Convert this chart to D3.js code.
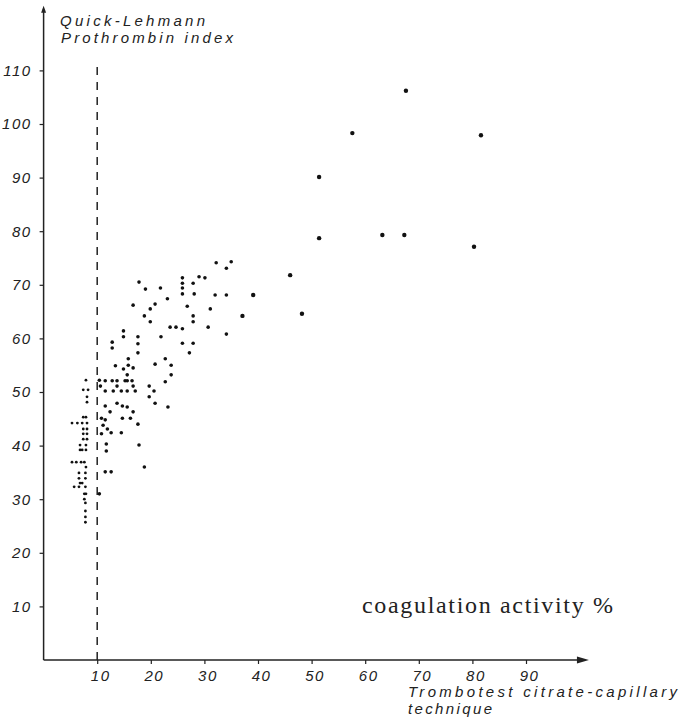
<!DOCTYPE html>
<html>
<head>
<meta charset="utf-8">
<script src="https://cdn.jsdelivr.net/npm/d3@7"></script>
<style>
  html, body { margin: 0; padding: 0; background: #fff; }
  svg { display: block; }
</style>
</head>
<body>
<svg id="chart" width="680" height="724"></svg>
<script>
// ---- data ----
const xTicks = [10, 20, 30, 40, 50, 60, 70, 80, 90];
const yTicks = [10, 20, 30, 40, 50, 60, 70, 80, 90, 100, 110];
const thresholdX = 10;

// Trombotest < 10 %
const leftPoints = [
  [7.9,52.2],[7.4,50.4],[8.3,50.4],[8.1,49.1],[8.1,48.1],[7.4,45.3],[7.9,45.3],
  [5.3,44.2],[6.3,44.2],[7.2,44.2],[8.1,44.2],[7.4,43.1],[8.1,43.1],[7.4,42.2],[8.1,42.2],
  [7.4,41.2],[8.1,41.2],[6.8,40.1],[7.9,40.1],[6.8,39.2],[7.2,39.2],[7.9,39.2],
  [5.3,36.9],[6.1,36.9],[7.0,36.9],[7.6,36.9],[7.9,36.0],[6.6,34.9],[7.8,34.9],
  [6.6,33.9],[7.8,33.9],[6.8,33.0],[7.2,33.0],[5.7,32.3],[6.6,32.3],[7.8,32.3],
  [7.6,31.0],[7.9,31.0],[7.6,30.0],[7.8,29.3],[7.8,27.8],[7.8,26.7],[7.8,25.7]
];

// Trombotest 10 - 35 %
const mainPoints = [
  [32.2,74.1],[35.0,74.3],[34.1,73.1],[25.9,71.3],[25.9,70.3],[25.9,69.4],[25.9,68.3],
  [29.0,71.5],[30.1,71.3],[27.9,70.3],[28.1,68.3],[32.0,68.1],[34.1,68.1],[21.8,69.4],
  [23.1,67.4],[26.8,66.0],[31.1,65.5],[27.9,64.2],[27.9,63.1],[23.6,62.1],[24.7,62.1],
  [25.9,61.8],[30.7,62.1],[34.1,60.8],[21.9,60.3],[25.9,59.1],[27.9,59.1],[27.2,57.3],
  [22.7,56.2],[23.8,55.0],[23.8,53.2],[22.7,51.9],[23.2,47.2],
  [17.8,70.5],[19.0,69.2],[16.7,66.2],[20.8,66.4],[19.9,65.5],[18.8,64.2],[19.9,63.1],
  [14.9,61.4],[14.9,60.3],[17.6,60.3],[12.8,59.3],[12.8,58.2],[17.6,59.0],[17.6,57.3],
  [15.8,56.2],[13.4,54.9],[14.9,54.3],[15.8,55.0],[16.7,54.5],[15.6,53.2],[20.8,55.2],
  [10.4,52.2],[11.5,52.1],[12.8,52.1],[13.7,52.1],[15.2,52.1],[15.6,52.1],[16.5,52.1],
  [10.6,51.1],[13.7,51.1],[16.7,51.1],[19.7,51.1],
  [11.5,50.2],[13.0,50.2],[14.5,50.2],[15.6,50.2],[17.1,50.2],[20.6,50.2],
  [19.7,49.1],[20.8,47.9],[11.5,47.4],[12.4,46.3],[13.7,47.9],[14.7,47.4],[15.6,47.2],
  [16.7,46.3],[14.7,45.1],[16.2,45.1],[17.6,44.0],
  [10.8,45.1],[11.5,44.8],[11.1,43.8],[11.9,43.1],[10.8,42.2],[12.6,42.4],[14.5,42.4],
  [11.7,40.3],[11.7,39.0],[17.8,40.1],[18.8,36.0],[11.5,35.1],[12.6,35.1],[10.4,31.0]
];

// Trombotest > 35 %
const highPoints = [
  [67.6,106.2],[57.6,98.3],[81.6,97.9],[51.4,90.1],[51.4,78.7],[63.2,79.3],[67.3,79.3],
  [80.3,77.1],[46.0,71.8],[39.1,68.1],[37.1,64.2],[48.2,64.6]
];

const yTitle = ["Quick-Lehmann", "Prothrombin index"];
const xTitle = ["Trombotest citrate-capillary", "technique"];
const unitLabel = "coagulation activity %";

// ---- drawing ----
const ink = "#222";
const hand = "'Liberation Sans', 'DejaVu Sans', sans-serif";
const svg = d3.select("#chart");

const x = d3.scaleLinear().domain([0, 100]).range([43.6, 579.6]);
const y = d3.scaleLinear().domain([0, 110]).range([660, 70.4]);

// axes
const xAxis = d3.axisBottom(x).tickValues(xTicks).tickSize(4).tickPadding(6).tickFormat(d3.format("d"));
const yAxis = d3.axisLeft(y).tickValues(yTicks).tickSize(4).tickPadding(5).tickFormat(d3.format("d"));

const gx = svg.append("g").attr("transform", `translate(0,${y(0)})`).call(xAxis);
const gy = svg.append("g").attr("transform", `translate(${x(0)},0)`).call(yAxis);
[gx, gy].forEach(g => {
  g.attr("font-family", null).attr("font-size", null);
  g.select(".domain").remove();
  g.selectAll(".tick line").attr("stroke", ink).attr("stroke-width", 1.2);
  g.selectAll(".tick text")
    .attr("fill", ink)
    .attr("font-family", hand)
    .attr("font-style", "italic")
    .attr("font-size", 15)
    .style("letter-spacing", "1.5px");
});
gx.selectAll(".tick text").attr("dx", 3);
gy.selectAll(".tick text").attr("dx", -3);

// axis lines with arrows
const xEnd = 101, yEnd = 121.5;
svg.append("line")
  .attr("x1", x(0)).attr("y1", y(0)).attr("x2", x(xEnd)).attr("y2", y(0))
  .attr("stroke", ink).attr("stroke-width", 1.5);
svg.append("path")
  .attr("d", `M${x(xEnd) + 4},${y(0)} L${x(xEnd) - 8},${y(0) - 3.5} L${x(xEnd) - 8},${y(0) + 3.5} Z`)
  .attr("fill", ink);
svg.append("line")
  .attr("x1", x(0)).attr("y1", y(0)).attr("x2", x(0)).attr("y2", y(yEnd))
  .attr("stroke", ink).attr("stroke-width", 1.5);
svg.append("path")
  .attr("d", `M${x(0)},${y(yEnd) - 3} L${x(0) - 2.5},${y(yEnd) + 4} L${x(0) + 2.5},${y(yEnd) + 4} Z`)
  .attr("fill", ink);

// dashed threshold line
svg.append("line")
  .attr("x1", x(thresholdX)).attr("x2", x(thresholdX))
  .attr("y1", y(0)).attr("y2", y(111.5))
  .attr("stroke", ink).attr("stroke-width", 1.5)
  .attr("stroke-dasharray", "8,7");

// points
const groups = [
  { data: leftPoints, r: 1.4 },
  { data: mainPoints, r: 1.8 },
  { data: highPoints, r: 2.2 }
];
groups.forEach(gr => {
  svg.append("g").selectAll("circle").data(gr.data).join("circle")
    .attr("cx", d => x(d[0]))
    .attr("cy", d => y(d[1]))
    .attr("r", gr.r)
    .attr("fill", "#111");
});

// titles
function handText(str, px, py, len, size) {
  svg.append("text")
    .attr("x", px).attr("y", py)
    .attr("fill", ink)
    .attr("font-family", hand)
    .attr("font-style", "italic")
    .attr("font-size", size)
    .attr("textLength", len)
    .attr("lengthAdjust", "spacing")
    .text(str);
}
handText(yTitle[0], 60, 26, 145, 15);
handText(yTitle[1], 61, 43, 172, 15);
handText(xTitle[0], 408, 697, 269, 15);
handText(xTitle[1], 408, 714, 84, 15);

svg.append("text")
  .attr("x", 362).attr("y", 613)
  .attr("fill", ink)
  .attr("font-family", "'Liberation Serif', 'DejaVu Serif', serif")
  .attr("font-size", 24)
  .attr("textLength", 251)
  .attr("lengthAdjust", "spacing")
  .text(unitLabel);
</script>
</body>
</html>
